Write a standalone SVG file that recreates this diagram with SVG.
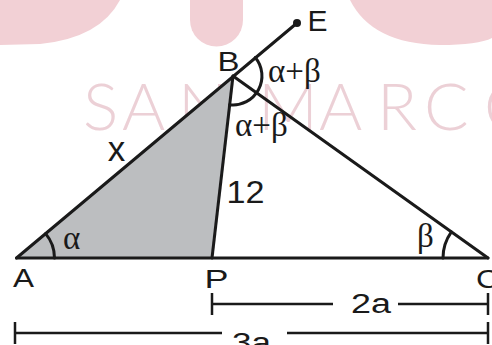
<svg xmlns="http://www.w3.org/2000/svg" width="492" height="345" viewBox="0 0 492 345">
<style>
.wm{fill:#f2d0d5;}
.wt{fill:#ecd0d6;font-family:Lato,Inter,"Open Sans",sans-serif;font-weight:300;font-size:66px;}
.ln{stroke:#1a1a1a;stroke-width:3;fill:none;stroke-linecap:round;stroke-linejoin:round;}
.dm{stroke:#1a1a1a;stroke-width:2.5;fill:none;}
.lb{font-family:"Liberation Sans",Arial,sans-serif;fill:#1a1a1a;}
.gk{font-family:"Liberation Serif","Times New Roman",serif;fill:#1a1a1a;font-size:33px;}
</style>
<rect width="492" height="345" fill="#ffffff"/>
<g id="watermark">
<path class="wm" d="M0,0 L120,0 Q100,38 40,44 L0,45 Z"/>
<path class="wm" d="M190,0 V20 A26.5,26.5 0 0 0 243,20 V0 Z"/>
<path class="wm" d="M350,0 Q372,44 440,45 Q478,45 492,38 V0 Z"/>
<text class="wt" x="83" y="130">S</text>
<text class="wt" x="122" y="130">A</text>
<text class="wt" x="178" y="130">N</text>
<text class="wt" x="258" y="130">M</text>
<text class="wt" x="319" y="130">A</text>
<text class="wt" x="377" y="130">R</text>
<text class="wt" x="424" y="130">C</text>
<text class="wt" x="484" y="130">O</text>
</g>
<g id="shaded-triangle">
<polygon points="16.5,258 233,76 212,258" fill="#bcbec0"/>
</g>
<g id="connectors">
<path class="ln" d="M16.5,258 L297,23"/>
<path class="ln" d="M233,76 L212,258"/>
<path class="ln" d="M233,76 L488,258"/>
<path class="ln" d="M16.5,258 L488,258"/>
<circle cx="297" cy="23" r="4" fill="#1a1a1a"/>
</g>
<g id="angles">
<path class="ln" d="M54.5,258 A38,38 0 0 0 45.6,233.6"/>
<path class="ln" d="M443,258 A45,45 0 0 1 451.4,231.9"/>
<path class="ln" d="M255.3,57.5 A29,29 0 0 1 229.7,104.8"/>
</g>
<g id="dimensions">
<path class="dm" d="M212,293 V315 M488,293 V315 M212,304 H333 M398,304 H488"/>
<path class="dm" d="M15,322 V344 M488,322 V344 M15,333 H222 M287,333 H488"/>
</g>
<g id="labels">
<text class="lb" x="307.5" y="31" font-size="30">E</text>
<text class="lb" x="217.5" y="71" font-size="27" textLength="22" lengthAdjust="spacingAndGlyphs">B</text>
<text class="lb" x="13" y="287" font-size="26" textLength="21" lengthAdjust="spacingAndGlyphs">A</text>
<text class="lb" x="204.5" y="288" font-size="26" textLength="24" lengthAdjust="spacingAndGlyphs">P</text>
<text class="lb" x="476" y="288" font-size="26" textLength="23" lengthAdjust="spacingAndGlyphs">C</text>
<text class="lb" x="107.7" y="161" font-size="35">x</text>
<text class="lb" x="226.5" y="203" font-size="31" textLength="38" lengthAdjust="spacingAndGlyphs">12</text>
<text class="lb" x="351" y="313" font-size="27" textLength="40" lengthAdjust="spacingAndGlyphs">2a</text>
<text class="lb" x="232" y="351.5" font-size="27" textLength="39" lengthAdjust="spacingAndGlyphs">3a</text>
<text class="gk" x="268" y="81.5">α+β</text>
<text class="gk" x="235" y="136">α+β</text>
<text class="gk" x="63" y="249">α</text>
<text class="gk" x="417" y="247" font-size="32">β</text>
</g>
</svg>
